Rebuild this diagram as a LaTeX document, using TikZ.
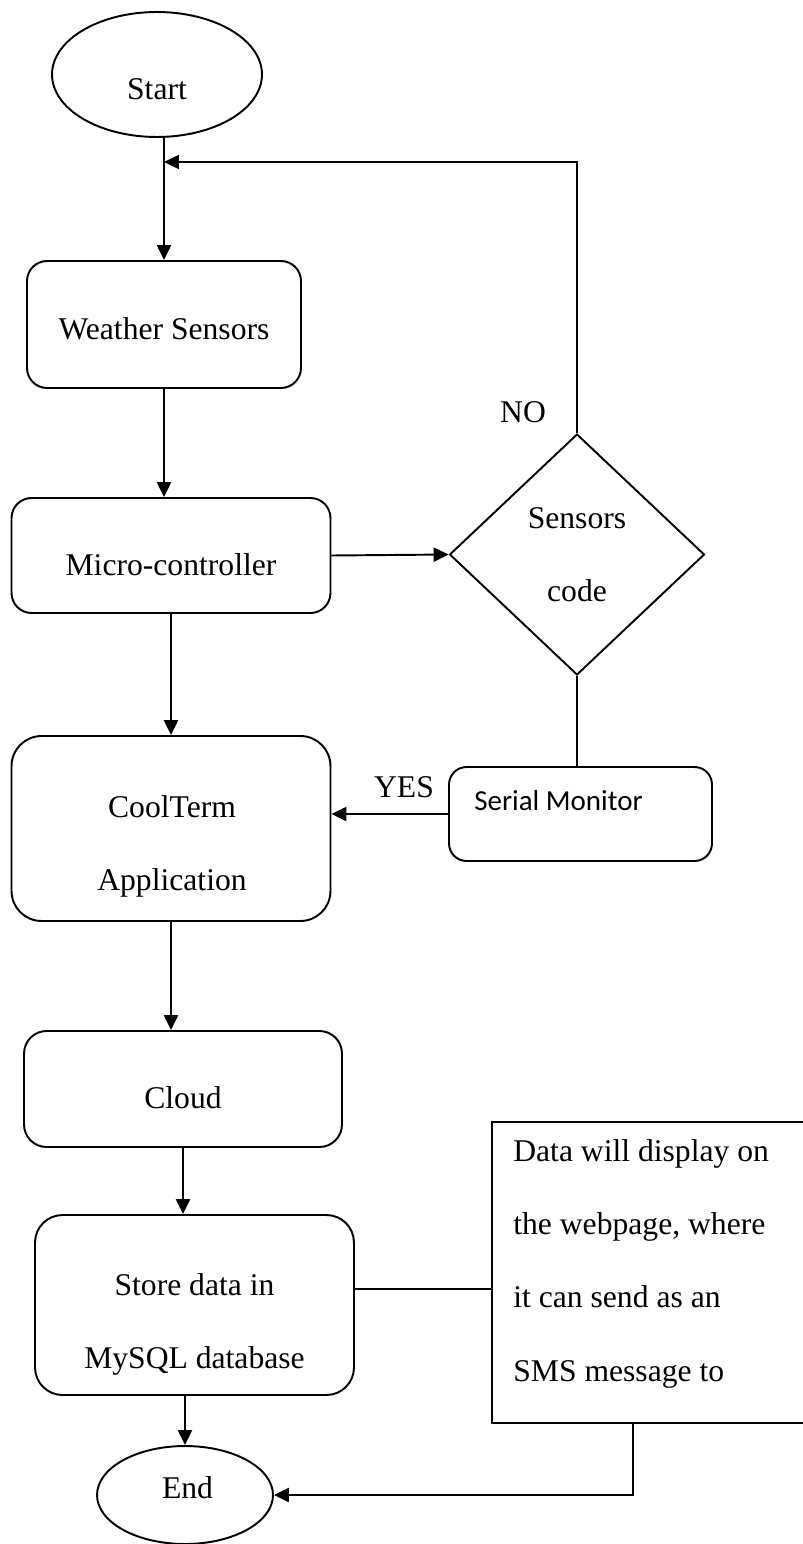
\documentclass[tikz,border=0pt]{standalone}
\usepackage{fontspec}
\setmainfont{Liberation Serif}
\newfontfamily\calibrifont{Carlito}
\usetikzlibrary{shapes.geometric,arrows.meta}

\tikzset{
  box/.style={draw, line width=1.1pt, rounded corners=#1, inner sep=0pt},
  box/.default=0.4cm,
  oval/.style={draw, line width=1.1pt, ellipse, inner sep=0pt},
  plainbox/.style={draw, line width=1.1pt, inner sep=0pt},
  txt/.style={font=\fontsize{18pt}{41.7pt}\selectfont, align=center, inner sep=0pt},
  arr/.style={line width=1.1pt, -{Triangle[length=8.5pt,width=8pt]}},
  wire/.style={line width=1.1pt},
}

\begin{document}
\begin{tikzpicture}[x=0.02cm, y=-0.02cm]
  \useasboundingbox (0,0) rectangle (803,1544);
  \clip (0,0) rectangle (803,1544);

  % Start oval
  \node (start) [oval, minimum width=4.2cm, minimum height=2.5cm] at (157,74.5) {};
  \node (start-txt) [txt, anchor=base] at (157,100) {Start};

  % Weather sensors box
  \node (sensors) [box, minimum width=5.48cm, minimum height=2.54cm] at (164,324.5) {};
  \node (sensors-txt) [txt, anchor=base] at (164,339) {Weather Sensors};

  % Micro-controller box
  \node (mcu) [box, minimum width=6.38cm, minimum height=2.3cm] at (171,555.5) {};
  \node (mcu-txt) [txt, anchor=base] at (171,575) {Micro-controller};

  % Decision diamond
  \node (decision) [draw, line width=1.1pt, diamond, inner sep=0pt, txt,
    minimum width=5.1cm, minimum height=4.82cm] at (577,554.5) {Sensors\\code};

  % Serial monitor box
  \node (serial) [box=0.35cm, minimum width=5.26cm, minimum height=1.88cm] at (580.5,814) {};
  \node (serial-txt) [anchor=base west, inner sep=0pt, font=\calibrifont\fontsize{16.5pt}{20pt}\selectfont]
    at (474,810) {Serial Monitor};

  % CoolTerm box
  \node (coolterm) [box=0.6cm, minimum width=6.38cm, minimum height=3.7cm] at (171,828.5) {};
  \node (coolterm-txt) [txt, anchor=north] at (172,795) {CoolTerm\\Application};

  % Cloud box
  \node (cloud) [box=0.45cm, minimum width=6.36cm, minimum height=2.32cm] at (183,1089) {};
  \node (cloud-txt) [txt, anchor=base] at (183,1108) {Cloud};

  % Store box
  \node (store) [box=0.55cm, minimum width=6.38cm, minimum height=3.6cm] at (194.5,1305) {};
  \node (store-txt) [txt, anchor=north] at (194.5,1273) {Store data in\\MySQL database};

  % Note box, cut by the right edge
  \node (note) [plainbox, minimum width=6.56cm, minimum height=6.02cm] at (656,1272.5) {};
  \node (note-txt) [txt, align=left, anchor=north west] at (513,1139)
    {Data will display on\\the webpage, where\\it can send as an\\SMS message to};

  % End oval
  \node (end) [oval, minimum width=3.52cm, minimum height=1.96cm] at (185,1495) {};
  \node (end-txt) [txt, anchor=base] at (187.5,1498) {End};

  % Branch labels
  \node (no) [txt, anchor=base] at (523,422) {NO};
  \node (yes) [txt, anchor=base] at (404,797) {YES};

  % Helper coordinates
  \coordinate (loop) at (164,162);
  \coordinate (tap) at (0,1289);
  \coordinate (drop) at (633,0);

  % Connectors
  \draw [arr] (sensors.north |- start.south) -- (sensors.north);
  \draw [arr] (decision.north) |- (loop);
  \draw [arr] (sensors.south) -- (sensors.south |- mcu.north);
  \draw [arr] (mcu.east) -- (decision.west);
  \draw [wire] (decision.south) -- (decision.south |- serial.north);
  \draw [arr] (serial.west) -- (serial.west -| coolterm.east);
  \draw [arr] (mcu.south) -- (coolterm.north);
  \draw [arr] (coolterm.south) -- (coolterm.south |- cloud.north);
  \draw [arr] (cloud.south) -- (cloud.south |- store.north);
  \draw [arr] (end.north |- store.south) -- (end.north);
  \draw [wire] (store.east |- tap) -- (note.west |- tap);
  \draw [arr] (note.south -| drop) |- (end.east);
\end{tikzpicture}
\end{document}
